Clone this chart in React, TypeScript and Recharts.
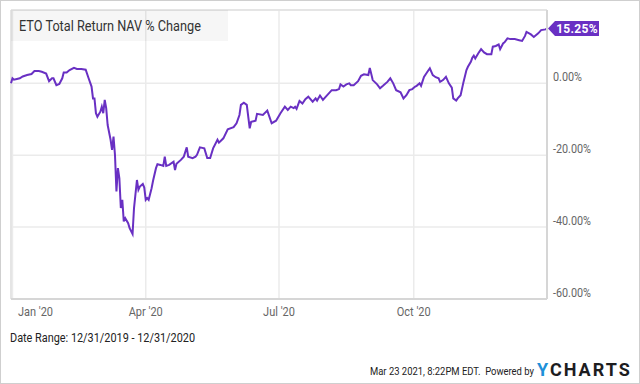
import { LineChart, Line, XAxis, YAxis, CartesianGrid, ReferenceLine } from 'recharts';

// day offset from 12/31/2019
const days = [
  0, 1, 2, 4, 6, 8, 11, 14, 16, 19, 21, 24, 26, 28, 29, 31, 33, 35, 36, 38,
  40, 43, 45, 48, 51, 53, 55, 56, 57, 58, 59, 61, 62, 63, 64, 65, 66, 68, 69, 70,
  71, 72, 73, 74, 75, 76, 77, 78, 80, 81, 83, 84, 86, 87, 88, 90, 91, 92, 93, 94,
  96, 97, 99, 100, 102, 104, 105, 106, 108, 111, 112, 113, 116, 118, 120, 121, 124, 126, 127, 129,
  132, 134, 136, 138, 141, 142, 145, 148, 152, 154, 156, 157, 159, 161, 163, 164, 167, 168, 172, 175,
  178, 181, 184, 187, 189, 191, 193, 194, 195, 197, 199, 201, 203, 206, 208, 209, 211, 213, 215, 219,
  222, 224, 225, 227, 229, 231, 232, 234, 237, 239, 241, 244, 245, 247, 250, 252, 254, 257, 259, 261,
  263, 266, 268, 270, 272, 274, 276, 277, 279, 280, 282, 284, 286, 288, 290, 292, 293, 295, 297, 299,
  301, 302, 304, 305, 307, 309, 311, 312, 314, 315, 316, 317, 319, 321, 323, 325, 328, 329, 331, 333,
  334, 336, 337, 339, 341, 344, 347, 349, 351, 352, 355, 357, 360, 362, 365, 366,
];

const navChange = [
  0, 1.4, 1.0, 1.2, 1.4, 1.9, 2.3, 2.6, 3.4, 3.4, 3.2, 2.7, 0.6, 1.4, 1.4, -0.5, -0.2, 1.4, 3.0, 3.0,
  3.7, 4.3, 4.0, 4.0, 3.8, 1.4, -0.9, -4.2, -4.2, -8.3, -9.3, -7.9, -6.5, -8.3, -4.6, -6.9, -11.6, -15.7, -18.5, -14.8,
  -19.9, -30.1, -23.6, -26.4, -34.7, -32.4, -38.4, -37.5, -38.9, -40.3, -41.9, -34.7, -26.9, -29.6, -28.7, -28.0, -29.0, -32.4, -31.9, -32.4,
  -29.2, -27.1, -23.6, -22.5, -22.7, -23.0, -20.4, -23.0, -22.7, -21.8, -24.1, -22.4, -21.3, -20.4, -17.8, -20.4, -20.8, -20.4, -19.9, -17.8,
  -18.1, -20.8, -20.8, -18.1, -15.7, -16.5, -15.3, -12.8, -12.2, -11.1, -8.8, -6.0, -5.4, -6.0, -12.5, -10.7, -10.4, -8.5, -8.8, -7.6,
  -11.1, -10.4, -8.3, -6.5, -7.4, -6.5, -6.9, -6.5, -7.1, -4.9, -5.6, -4.4, -3.7, -5.1, -4.2, -4.8, -3.4, -4.6, -3.7, -1.9,
  -1.9, -1.6, -0.3, -0.9, -0.3, 0, -0.5, -0.5, 0.6, 2.1, 2.5, 2.3, 4.3, 0.9, -0.3, -1.4, -0.7, 0.4, 1.4, 0,
  -1.9, -2.5, -4.2, -3.3, -1.9, -1.6, -0.9, -0.7, 0, -0.7, 1.8, 3.0, 4.2, 2.3, 1.7, 1.4, 0.4, 0.9, 1.8, 0,
  -1.2, -4.2, -4.8, -4.2, -3.3, 0.4, 3.7, 4.6, 6.0, 7.1, 7.7, 6.9, 8.3, 9.5, 8.6, 8.1, 8.1, 10.2, 10.4, 10.8,
  9.5, 11.1, 11.4, 12.5, 12.3, 12.3, 12.0, 11.8, 13.2, 14.3, 13.6, 12.9, 13.9, 14.8, 15.0, 15.25,
];

const xTicks = [1, 92, 183, 275];
const xTickLabels = ["Jan '20", "Apr '20", "Jul '20", "Oct '20"];
const yTicks = [-60, -40, -20, 0];

const data = days.map((d, i) => ({ day: d, value: navChange[i] }));

const PURPLE = '#6930c3';
const FONT = 'Roboto, sans-serif';

const XTick = ({ x, y, payload }) => {
  const i = xTicks.indexOf(payload.value);
  const shift = i === 0 ? 23 : 0;
  return (
    <g transform={`translate(${x + shift},${y})`}>
      <text transform="scale(0.88,1)" textAnchor="middle" dy="0.71em" fill="#666" fontSize={12.5} fontFamily={FONT}>
        {xTickLabels[i]}
      </text>
    </g>
  );
};

const YTick = ({ x, y, payload }) => (
  <g transform={`translate(${x - 2},${y - 2.5})`}>
    <text transform="scale(0.9,1)" textAnchor="start" fill="#666" fontSize={12} fontFamily={FONT}>
      {`${payload.value.toFixed(2)}%`}
    </text>
  </g>
);

const EndLabel = ({ x, y, index, value }) => {
  if (index !== data.length - 1) return null;
  const tx = x + 1;
  return (
    <g>
      <polygon
        points={`${tx},${y} ${tx + 7},${y - 7.5} ${tx + 51},${y - 7.5} ${tx + 51},${y + 7.5} ${tx + 7},${y + 7.5}`}
        fill={PURPLE}
      />
      <text x={tx + 29} y={y + 4.3} textAnchor="middle" fill="#fff" fontSize={12} fontWeight="bold" fontFamily={FONT} letterSpacing={0.3}>
        {`${value.toFixed(2)}%`}
      </text>
    </g>
  );
};

const textBox = (left, top, size, color, scale) => ({
  position: 'absolute',
  left,
  top,
  fontSize: size,
  lineHeight: '16px',
  color,
  fontFamily: FONT,
  whiteSpace: 'nowrap',
  transform: `scaleX(${scale})`,
  transformOrigin: 'left center',
});

export default function App() {
  return (
    <div style={{ position: 'absolute', left: 0, top: 0, width: 640, height: 384, background: '#fff', overflow: 'hidden' }}>
      <LineChart width={640} height={384} data={data} margin={{ top: 10, right: 0, left: 11, bottom: 0 }}>
        <CartesianGrid stroke="#ebebeb" strokeWidth={1.5} />
        <XAxis
          dataKey="day"
          type="number"
          domain={[0, 366]}
          ticks={xTicks}
          height={85}
          tickLine={false}
          axisLine={{ stroke: '#d6d6d6', strokeWidth: 2 }}
          tick={<XTick />}
          interval={0}
        />
        <YAxis
          orientation="right"
          type="number"
          domain={[-60, 20.4]}
          ticks={yTicks}
          width={93}
          tickLine={false}
          axisLine={{ stroke: '#d6d6d6', strokeWidth: 2 }}
          tick={<YTick />}
          allowDataOverflow
          interval={0}
        />
        <ReferenceLine y={20.4} stroke="#e2e2e2" strokeWidth={1.5} />
        <ReferenceLine x={0} stroke="#e2e2e2" strokeWidth={1.5} />
        <Line
          type="linear"
          dataKey="value"
          stroke={PURPLE}
          strokeWidth={2}
          dot={false}
          isAnimationActive={false}
          label={<EndLabel />}
        />
      </LineChart>

      <div style={{ position: 'absolute', left: 11, top: 10, width: 217, height: 31, background: 'rgba(0,0,0,0.035)' }} />
      <div style={textBox(19, 18, 15.5, '#333', 0.82)}>ETO Total Return NAV % Change</div>

      <div style={textBox(10, 330, 12.5, '#222', 0.87)}>Date Range: 12/31/2019 - 12/31/2020</div>
      <div style={textBox(370, 363, 11.5, '#222', 0.82)}>Mar 23 2021, 8:22PM EDT.&nbsp; Powered by</div>
      <div style={{ position: 'absolute', left: 537, top: 361, fontFamily: FONT, fontWeight: 'bold', fontSize: 18, lineHeight: '18px', letterSpacing: 2, whiteSpace: 'nowrap' }}>
        <span style={{ color: '#1e90d8' }}>Y</span>
        <span style={{ color: '#1d1d1f' }}>CHARTS</span>
      </div>

      <div style={{ position: 'absolute', left: 0, top: 0, width: 640, height: 384, boxSizing: 'border-box', border: '1px solid #cfcfcf', pointerEvents: 'none' }} />
    </div>
  );
}
